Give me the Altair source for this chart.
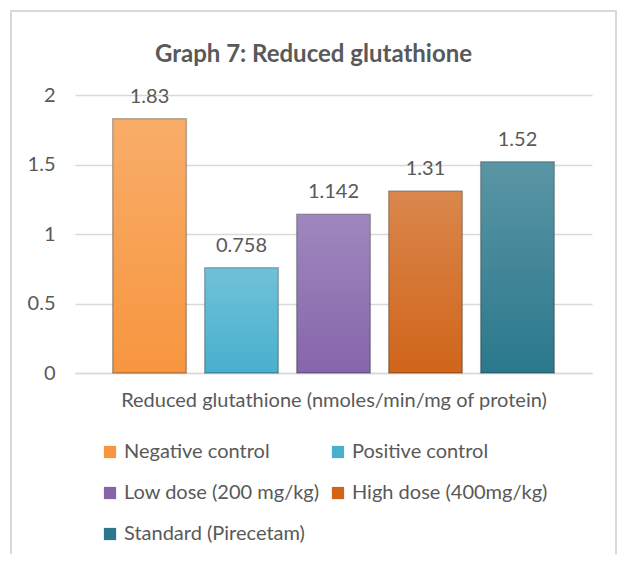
import altair as alt
import pandas as pd

groups = ["Negative control", "Positive control", "Low dose (200 mg/kg)",
          "High dose (400mg/kg)", "Standard (Pirecetam)"]
values = [1.83, 0.758, 1.142, 1.31, 1.52]
labels = ["1.83", "0.758", "1.142", "1.31", "1.52"]
colors = ["#F7963F", "#48B0CE", "#8566AB", "#D0651A", "#2B788C"]
y_ticks = [0, 0.5, 1, 1.5, 2]
x_title = "Reduced glutathione (nmoles/min/mg of protein)"
title = "Graph 7: Reduced glutathione"

df = pd.DataFrame({"group": groups, "value": values, "label": labels})

FONT = "Lato"
TXT = "#595959"
FS = 20

x_enc = alt.X("group:N", sort=groups,
              scale=alt.Scale(paddingInner=0.2, paddingOuter=0.41),
              axis=alt.Axis(title=x_title, labels=False, ticks=False, domain=True,
                            domainColor="#D9D9D9", domainWidth=1.5,
                            titleFont=FONT, titleFontSize=FS, titleFontWeight="normal",
                            titleColor=TXT, titlePadding=17))
y_enc = alt.Y("value:Q", scale=alt.Scale(domain=[0, 2], nice=False),
              axis=alt.Axis(values=y_ticks, format=".1~f", title=None, grid=True,
                            gridColor="#D9D9D9", gridWidth=1.5, domain=False, ticks=False,
                            labelPadding=20, labelFont=FONT, labelFontSize=FS,
                            labelColor=TXT))

base = alt.Chart(df)

bars = base.mark_bar(strokeWidth=1.5, stroke="rgba(0,0,0,0.28)").encode(
    x=x_enc, y=y_enc,
    color=alt.Color("group:N", sort=groups,
                    scale=alt.Scale(domain=groups, range=colors),
                    legend=alt.Legend(title=None, orient="none", legendX=25, legendY=347,
                                      columns=2, direction="horizontal",
                                      symbolType="square", symbolSize=150,
                                      symbolStrokeWidth=0, labelFont=FONT, labelFontSize=FS,
                                      labelColor=TXT, rowPadding=21, columnPadding=8,
                                      labelLimit=300)))

shine = base.mark_bar(
    color=alt.Gradient(gradient="linear",
                       stops=[alt.GradientStop(color="rgba(255,255,255,0.22)", offset=0),
                              alt.GradientStop(color="rgba(255,255,255,0)", offset=1)],
                       x1=0, x2=0, y1=0, y2=1)
).encode(x=alt.X("group:N", sort=groups), y="value:Q")

text = base.mark_text(baseline="alphabetic", dy=-16, font=FONT, fontSize=FS, color=TXT).encode(
    x=alt.X("group:N", sort=groups), y="value:Q", text="label:N")

border = alt.Chart(pd.DataFrame({"a": [0]})).mark_rect(
    fill=None, stroke="#D9D9D9", strokeWidth=2
).encode(x=alt.value(-64), x2=alt.value(541), y=alt.value(-84), y2=alt.value(480))

chart = alt.layer(border, bars, shine, text).properties(
    width=517, height=278,
    title=alt.TitleParams(title, font=FONT, fontSize=24, fontWeight="bold", color=TXT,
                          anchor="middle", frame="bounds", offset=0, dy=57),
    autosize=alt.AutoSizeParams(type="none"),
    padding={"left": 67, "top": 87, "right": 25, "bottom": 181},
).configure_view(stroke=None)

chart.save("out.html", embed_options={"renderer": "svg", "actions": False})
